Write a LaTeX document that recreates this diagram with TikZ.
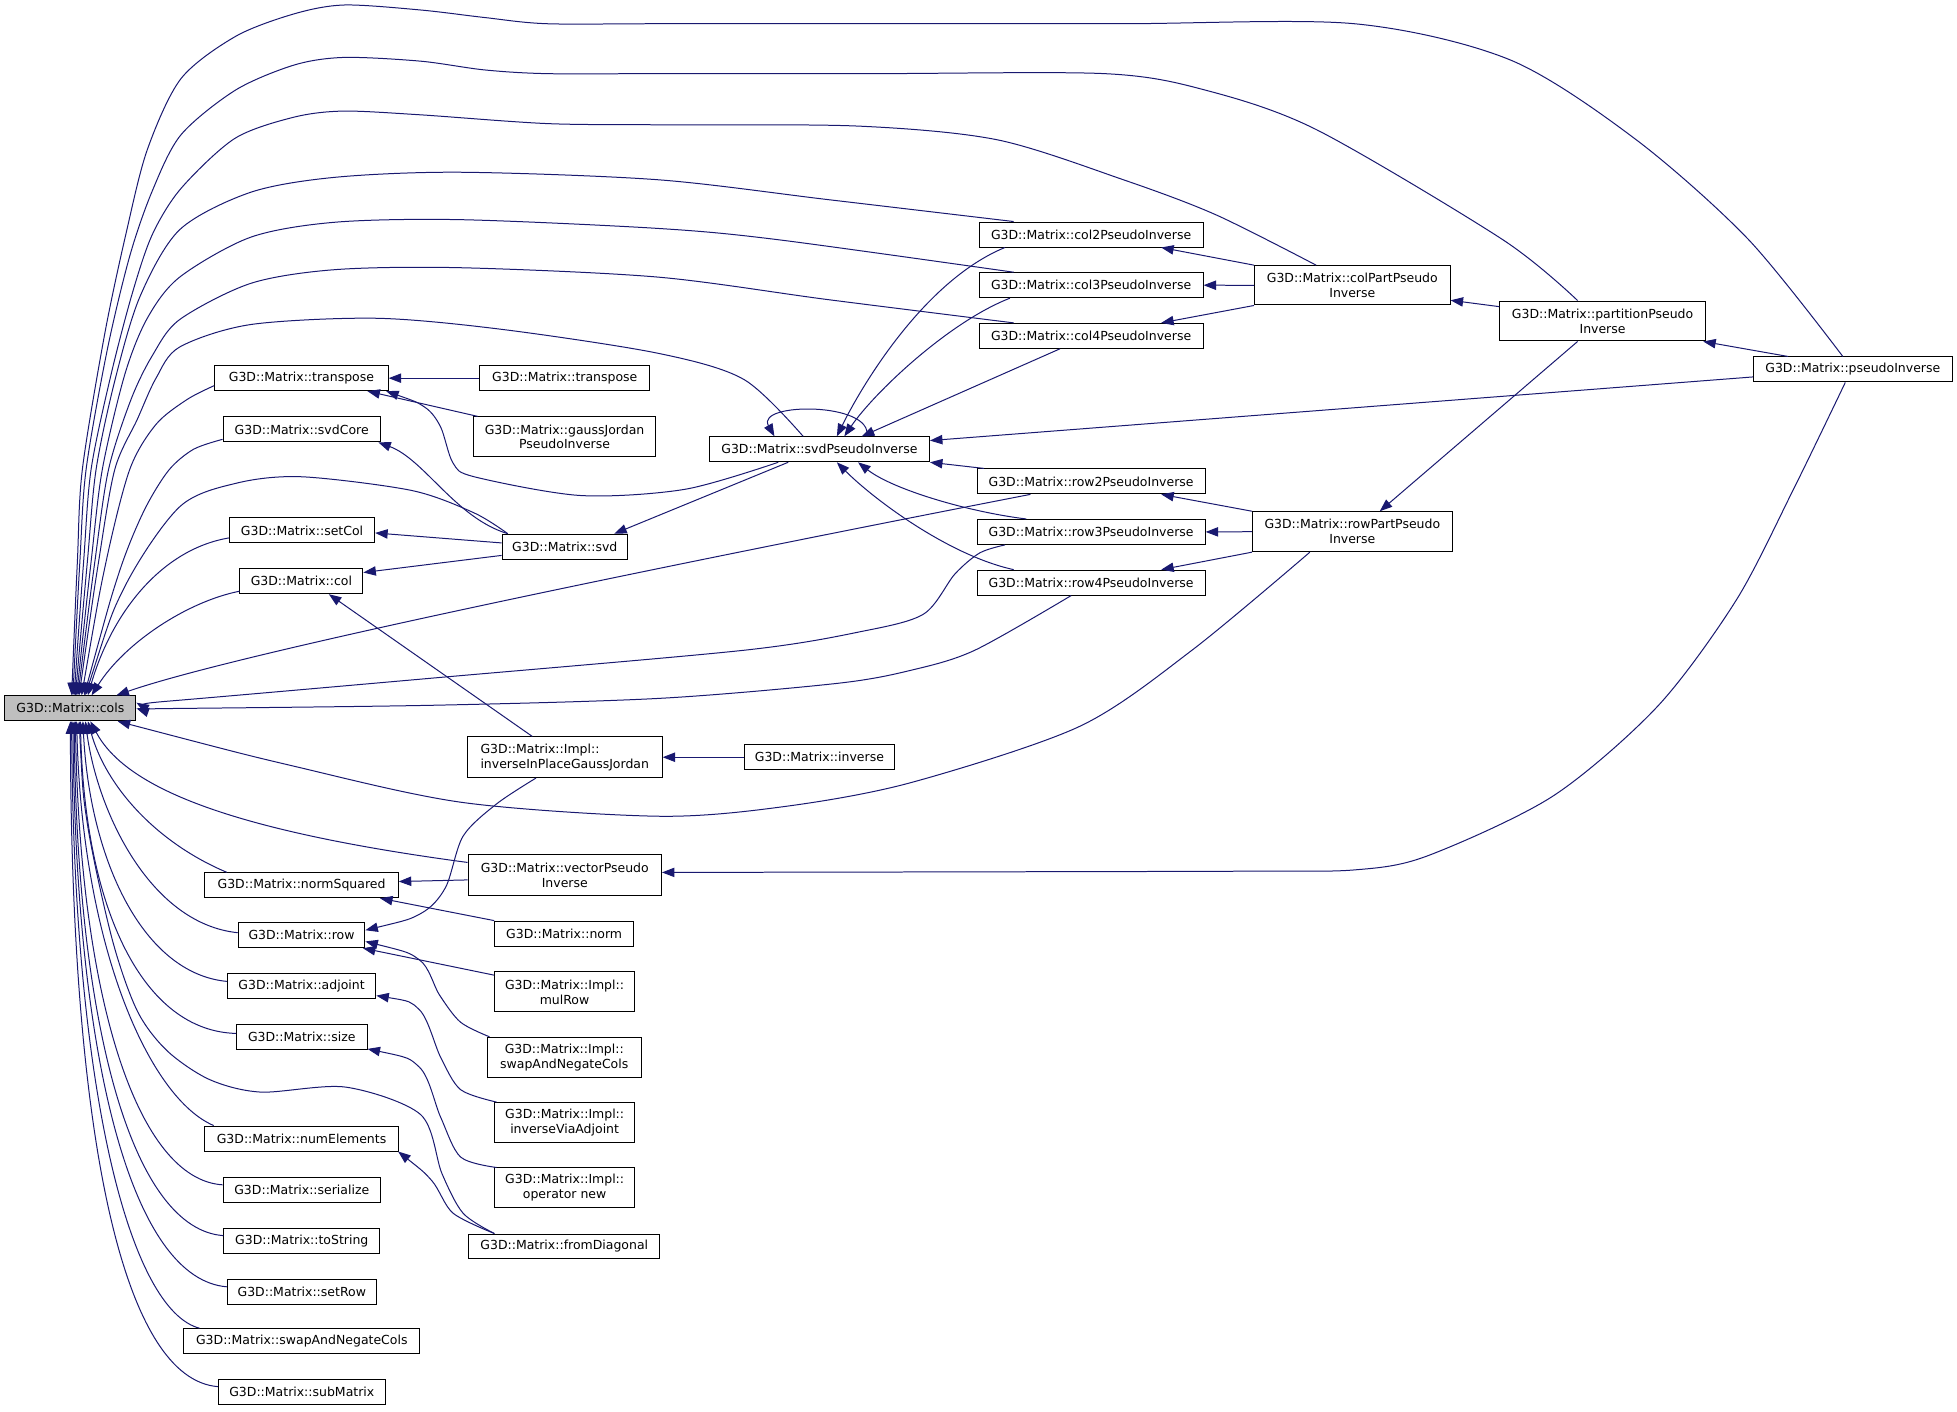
\documentclass[tikz,border=0pt]{standalone}
\usepackage{fontspec}
\setmainfont{DejaVu Sans}
\usetikzlibrary{arrows.meta}
\definecolor{edgec}{HTML}{191970}
\definecolor{colsfill}{HTML}{BFBFBF}
\begin{document}
\begin{tikzpicture}[x=1pt,y=-1pt,
  box/.style={draw=black, line width=0.8pt, fill=white, inner sep=0pt, minimum height=20pt, font=\fontsize{10}{12}\selectfont, align=center},
  boxtwo/.style={box, minimum height=32.5pt},
  e/.style={draw=edgec, line width=0.8pt, arrows={Triangle[length=10pt,width=7.5pt]-}},
  sm/.style={smooth, tension=0.5}
]
\path[fill=white, use as bounding box] (0,0) rectangle (1568,1130.6);

% ---------- nodes ----------
\node[box, fill=colsfill, minimum width=105pt] (cols) at (56.4,567.5) {G3D::Matrix::cols};

\node[box, minimum width=139pt] (transpose) at (241.5,303) {G3D::Matrix::transpose};
\node[box, minimum width=126pt] (svdCore) at (241.7,344) {G3D::Matrix::svdCore};
\node[box, minimum width=116.4pt] (setCol) at (242,425) {G3D::Matrix::setCol};
\node[box, minimum width=98.5pt] (col) at (241.5,465.7) {G3D::Matrix::col};
\node[box, minimum width=155pt] (normSquared) at (241.6,709.3) {G3D::Matrix::normSquared};
\node[box, minimum width=101.5pt] (row) at (241.6,749.3) {G3D::Matrix::row};
\node[box, minimum width=119pt] (adjoint) at (241.6,790.3) {G3D::Matrix::adjoint};
\node[box, minimum width=104.6pt] (size) at (241.8,831) {G3D::Matrix::size};
\node[box, minimum width=156pt] (numElements) at (241.6,912.2) {G3D::Matrix::numElements};
\node[box, minimum width=126pt] (serialize) at (241.8,953.3) {G3D::Matrix::serialize};
\node[box, minimum width=124.8pt] (toString) at (241.8,994) {G3D::Matrix::toString};
\node[box, minimum width=119.4pt] (setRow) at (241.8,1035) {G3D::Matrix::setRow};
\node[box, minimum width=189pt] (swapNeg) at (241.8,1074.6) {G3D::Matrix::swapAndNegateCols};
\node[box, minimum width=133.6pt] (subMatrix) at (241.8,1115) {G3D::Matrix::subMatrix};

\node[box, minimum width=136pt] (transposeB) at (452.5,303) {G3D::Matrix::transpose};
\node[boxtwo, minimum width=146.4pt, minimum height=32pt] (gaussJordan) at (452.3,350) {G3D::Matrix::gaussJordan\\PseudoInverse};
\node[box, minimum width=100.5pt] (svd) at (452.5,438) {G3D::Matrix::svd};
\node[boxtwo, minimum width=156pt, align=left] (ipgj) at (452.5,606.7) {G3D::Matrix::Impl::\\inverseInPlaceGaussJordan};
\node[boxtwo, minimum width=155pt] (vectorPseudo) at (452.5,701) {G3D::Matrix::vectorPseudo\\Inverse};
\node[box, minimum width=111.3pt] (norm) at (452,748) {G3D::Matrix::norm};
\node[boxtwo, minimum width=112pt, minimum height=32pt] (mulRow) at (452.3,794.7) {G3D::Matrix::Impl::\\mulRow};
\node[boxtwo, minimum width=123pt, minimum height=32pt] (implSwap) at (452.1,847.1) {G3D::Matrix::Impl::\\swapAndNegateCols};
\node[boxtwo, minimum width=112.3pt, minimum height=32pt] (invAdj) at (452.4,899.4) {G3D::Matrix::Impl::\\inverseViaAdjoint};
\node[boxtwo, minimum width=112.3pt, minimum height=32pt] (opNew) at (452.4,951.8) {G3D::Matrix::Impl::\\operator new};
\node[box, minimum width=153.4pt] (fromDiag) at (452.1,998.7) {G3D::Matrix::fromDiagonal};

\node[box, minimum width=176.4pt] (svdPseudo) at (656.5,360) {G3D::Matrix::svdPseudoInverse};
\node[box, minimum width=120.4pt] (inverse) at (656.5,606.7) {G3D::Matrix::inverse};

\node[box, minimum width=179.5pt] (col2) at (874.2,187.9) {G3D::Matrix::col2PseudoInverse};
\node[box, minimum width=179.5pt] (col3) at (874.2,228.5) {G3D::Matrix::col3PseudoInverse};
\node[box, minimum width=179.5pt] (col4) at (874.2,269.1) {G3D::Matrix::col4PseudoInverse};
\node[box, minimum width=182.8pt] (row2) at (874.2,385.7) {G3D::Matrix::row2PseudoInverse};
\node[box, minimum width=182.8pt] (row3) at (874.2,426.2) {G3D::Matrix::row3PseudoInverse};
\node[box, minimum width=182.8pt] (row4) at (874.2,466.8) {G3D::Matrix::row4PseudoInverse};

\node[boxtwo, minimum width=156.7pt, minimum height=31.5pt] (colPart) at (1083.5,228.6) {G3D::Matrix::colPartPseudo\\Inverse};
\node[boxtwo, minimum width=160pt, minimum height=32pt] (rowPart) at (1083.5,426) {G3D::Matrix::rowPartPseudo\\Inverse};
\node[boxtwo, minimum width=164.5pt, minimum height=32pt] (partition) at (1284,257.2) {G3D::Matrix::partitionPseudo\\Inverse};
\node[box, minimum width=159pt] (pseudoInverse) at (1484.5,296) {G3D::Matrix::pseudoInverse};

% ---------- edges into cols (upper bundle) ----------
\draw[e] plot[sm] coordinates {([shift={(1,0)}]cols.north) (62,450) (66,376) (84,267) (101,187) (118,120) (145,63) (189,29) (236,11) (276,4) (337,8) (388,14) (438,19) (529,19) (700,19) (900,19) (1085,19) (1210,48) (1311,112) (1401,192) ([shift={(-8,0)}]pseudoInverse.north)};
\draw[e] plot[sm] coordinates {([shift={(2,0)}]cols.north) (64,450) (69,376) (86,280) (104,205) (122,153) (145,108) (189,72) (236,52) (276,46) (337,49) (388,56) (438,59) (529,59) (700,59) (885,59) (965,72) (1055,104) (1204,192) ([shift={(-20,0)}]partition.north)};
\draw[e] plot[sm] coordinates {([shift={(3,0)}]cols.north) (67,450) (73,376) (89,300) (106,235) (122,188) (145,151) (188,111) (235,94) (275,89) (337,92) (438,99) (529,100) (687,101) (799,112) (900,144) (974,172) ([shift={(-29,0)}]colPart.north)};
\draw[e] plot[sm] coordinates {([shift={(4,0)}]cols.north) (70,450) (77,376) (92,305) (112,238) (144,184) (201,154) (269,142) (369,138) (527,144) (664,160) ([shift={(-62,0)}]col2.north)};
\draw[e] plot[sm] coordinates {([shift={(5,0)}]cols.north) (73,450) (82,376) (100,300) (118,255) (144,222) (201,190) (269,178) (369,176) (527,183) (623,192) ([shift={(-62,0)}]col3.north)};
\draw[e] plot[sm] coordinates {([shift={(6,0)}]cols.north) (76,450) (87,376) (105,320) (122,285) (144,256) (201,227) (269,216) (369,214.5) (527,222) (663,240) ([shift={(-62,0)}]col4.north)};
\draw[e] plot[sm] coordinates {([shift={(7,0)}]cols.north) (79,450) (92,376) (110,336) (125,303) (144,278) (201,260) (302,255) (403,264) (527,283) (596,304) ([shift={(-13,0)}]svdPseudo.north)};
\draw[e] plot[sm] coordinates {([shift={(9,0)}]cols.north) (85,450) (104,376) (125,340) (150,320) ([shift={(0,6)}]transpose.west)};
\draw[e] plot[sm] coordinates {([shift={(11,0)}]cols.north) (95,460) (115,410) (135,377) (155,360) ([shift={(0,8)}]svdCore.west)};
\draw[e] plot[sm] coordinates {([shift={(12,0)}]cols.north) (100,470) (144,406) (190,387) (242,382) (330,393) (380,411) ([shift={(5,0)}]svd.north west)};
\draw[e] ([shift={(14,0)}]cols.north) .. controls (90,490) and (130,440) .. ([shift={(0,6)}]setCol.west);
\draw[e] ([shift={(17,0)}]cols.north) .. controls (100,515) and (150,482) .. ([shift={(0,8)}]col.west);

% ---------- edges into cols (right side) ----------
\draw[e] ([shift={(-16,0)}]cols.north east) .. controls (200,520) and (600,440) .. ([shift={(-48.6,0)}]row2.south);
\draw[e] plot[sm] coordinates {([shift={(0,-4.5)}]cols.east) (144,561) (350,543) (596,521) (690,506) (740,492) (765,460) (785,443) ([shift={(-69,0)}]row3.south)};
\draw[e] plot[sm] coordinates {(cols.east) (144,567.6) (350,565) (529,559.5) (671,547.5) (730,537) (781,521) ([shift={(-16,0)}]row4.south)};
\draw[e] plot[sm] coordinates {([shift={(-15,0)}]cols.south east) (236,614) (371,643) (529,654) (630,646) (730,627) (865,582) (955,521) ([shift={(-34,0)}]rowPart.south)};
\draw[e] ([shift={(16,0)}]cols.south) .. controls (100,630) and (180,665) .. ([shift={(0,-10)}]vectorPseudo.west);

% ---------- edges into cols (lower bundle) ----------
\draw[e] ([shift={(14,0)}]cols.south) .. controls (85,630) and (125,675) .. ([shift={(18,0)}]normSquared.north west);
\draw[e] ([shift={(12,0)}]cols.south) .. controls (78,650) and (120,740) .. ([shift={(0,-2)}]row.west);
\draw[e] ([shift={(10,0)}]cols.south) .. controls (72,690) and (115,780) .. ([shift={(0,-4)}]adjoint.west);
\draw[e] ([shift={(8,0)}]cols.south) .. controls (68,730) and (115,826) .. ([shift={(0,-3)}]size.west);
\draw[e] plot[sm] coordinates {([shift={(7,0)}]cols.south) (70,660) (90,753) (110,810) (134,842) (168,865) (209,875) (277,871) (337,893) (354,940) (371,972) ([shift={(-56,0)}]fromDiag.north)};
\draw[e] ([shift={(5,0)}]cols.south) .. controls (66,760) and (120,880) .. ([shift={(8,0)}]numElements.north west);
\draw[e] ([shift={(4,0)}]cols.south) .. controls (64,800) and (110,945) .. ([shift={(0,-4)}]serialize.west);
\draw[e] ([shift={(3,0)}]cols.south) .. controls (62,830) and (108,985) .. ([shift={(0,-4)}]toString.west);
\draw[e] ([shift={(2,0)}]cols.south) .. controls (61,860) and (108,1025) .. ([shift={(0,-4)}]setRow.west);
\draw[e] ([shift={(1,0)}]cols.south) .. controls (59,880) and (105,1050) .. ([shift={(13,0)}]swapNeg.north west);
\draw[e] (cols.south) .. controls (57,920) and (100,1105) .. ([shift={(0,-4)}]subMatrix.west);

% ---------- other edges ----------
\draw[e] (transpose.east) -- (transposeB.west);
\draw[e] ([shift={(-17,0)}]transpose.south east) -- ([shift={(4,0)}]gaussJordan.north west);
\draw[e] plot[sm] coordinates {([shift={(-2,0)}]transpose.south east) (340,326) (353,342) (363,371) (380,382) (465,397) (549,392) ([shift={(-33,0)}]svdPseudo.south)};
\draw[e] ([shift={(-2,0)}]svdCore.south east) .. controls (340,368) and (365,415) .. ([shift={(5,0)}]svd.north west);
\draw[e] ([shift={(0,2)}]setCol.east) -- ([shift={(0,-3)}]svd.west);
\draw[e] ([shift={(0,-7)}]col.east) -- ([shift={(0,7)}]svd.west);
\draw[e] ([shift={(-11,0)}]svd.north east) -- ([shift={(-25,0)}]svdPseudo.south);
\draw[e] ([shift={(22,0)}]col.south) -- ([shift={(-26,0)}]ipgj.north);
\draw[e] (ipgj.east) -- (inverse.west);
\draw[e] plot[sm] coordinates {([shift={(0,-4)}]row.east) (337,732) (357,711) (371,670) (398,644) ([shift={(-23,0)}]ipgj.south)};
\draw[e] ([shift={(0,-3)}]normSquared.east) -- ([shift={(0,4)}]vectorPseudo.west);
\draw[e] ([shift={(-15,0)}]normSquared.south east) -- (norm.north west);
\draw[e] ([shift={(-2,0)}]row.south east) -- ([shift={(0,3)}]mulRow.north west);
\draw[e] plot[sm] coordinates {([shift={(0,5)}]row.east) (336,769) (352,797) (369,819) ([shift={(2,0)}]implSwap.north west)};
\draw[e] plot[sm] coordinates {([shift={(0,-3)}]adjoint.south east) (336,809) (353,847) (369,873) ([shift={(2,0)}]invAdj.north west)};
\draw[e] plot[sm] coordinates {([shift={(0,-1)}]size.south east) (336,855) (353,895) (369,927) ([shift={(2,0)}]opNew.north west)};
\draw[e] plot[sm] coordinates {([shift={(-1,0)}]numElements.south east) (346,946) (363,972) ([shift={(-56,0)}]fromDiag.north)};

\draw[e] ([shift={(-36,0)}]svdPseudo.north) .. controls (605,322) and (700,322) .. ([shift={(38,0)}]svdPseudo.north);
\draw[e] ([shift={(14,0)}]svdPseudo.north) .. controls (690,310) and (740,225) .. ([shift={(-69,0)}]col2.south);
\draw[e] ([shift={(20,0)}]svdPseudo.north) .. controls (700,315) and (760,258) .. ([shift={(-65,0)}]col3.south);
\draw[e] ([shift={(34,0)}]svdPseudo.north) -- ([shift={(-25,0)}]col4.south);
\draw[e] ([shift={(0,-7)}]svdPseudo.east) -- ([shift={(0,6)}]pseudoInverse.west);
\draw[e] (svdPseudo.south east) -- ([shift={(6,0)}]row2.north west);
\draw[e] ([shift={(31,0)}]svdPseudo.south) .. controls (715,392) and (775,410) .. ([shift={(-52,0)}]row3.north);
\draw[e] ([shift={(14,0)}]svdPseudo.south) .. controls (700,400) and (760,445) .. ([shift={(-62,0)}]row4.north);

\draw[e] ([shift={(-34,0)}]col2.south east) -- (colPart.north west);
\draw[e] (col3.east) -- (colPart.west);
\draw[e] ([shift={(-34,0)}]col4.north east) -- (colPart.south west);
\draw[e] ([shift={(-35.6,0)}]row2.south east) -- (rowPart.north west);
\draw[e] (row3.east) -- (rowPart.west);
\draw[e] ([shift={(-35.6,0)}]row4.north east) -- (rowPart.south west);
\draw[e] ([shift={(0,12)}]colPart.east) -- ([shift={(0,-11.5)}]partition.west);
\draw[e] ([shift={(22,0)}]rowPart.north) -- ([shift={(-20,0)}]partition.south);
\draw[e] ([shift={(-2,0)}]partition.south east) -- ([shift={(28,0)}]pseudoInverse.north west);
\draw[e] plot[sm] coordinates {([shift={(0,-2)}]vectorPseudo.east) (800,698.5) (1000,698) (1085,697) (1143,686) (1244,638) (1328,566) (1391,481) (1436,394) ([shift={(-6,0)}]pseudoInverse.south)};
\end{tikzpicture}
\end{document}
